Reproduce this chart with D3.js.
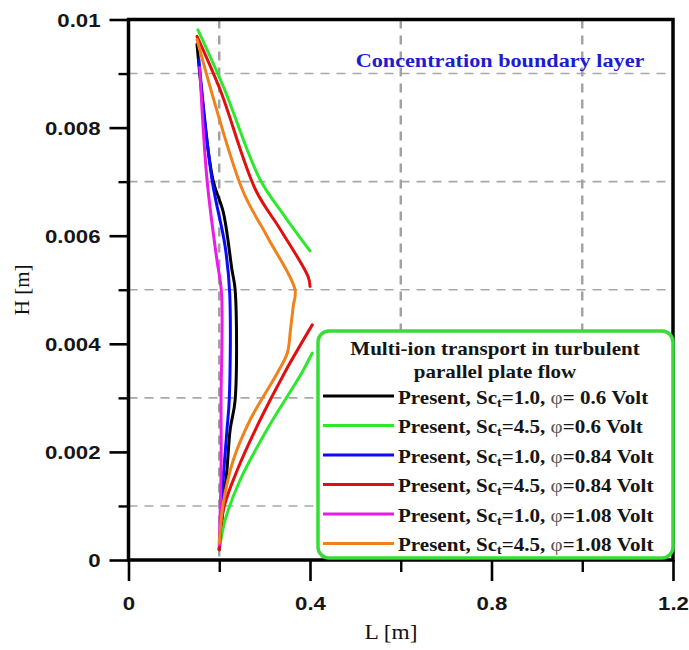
<!DOCTYPE html>
<html>
<head>
<meta charset="utf-8">
<script src="https://cdn.jsdelivr.net/npm/d3@7"></script>
<style>
  html, body { margin: 0; padding: 0; background: #fff; }
  svg { display: block; }
</style>
</head>
<body>
<svg id="chart" width="689" height="650"></svg>
<script>
// Concentration boundary-layer profiles, points are [L (m), H (m)].
// A null entry splits a profile into an upper and a lower branch.
const profileSc10Phi060 = [[0.151,0.00954],[0.186,0.00704],[0.209,0.00643],[0.228,0.00537],[0.235,0.00500],
  [0.235,0.00296],[0.224,0.00241],[0.217,0.00167],[0.206,0.00074],[0.200,0.00019]];
const profileSc45Phi060 = [[0.153,0.00981],[0.209,0.00876],[0.290,0.00704],[0.345,0.00635],[0.400,0.00572],
  null,
  [0.405,0.00383],[0.383,0.00348],[0.305,0.00241],[0.246,0.00148],[0.213,0.00074],[0.200,0.00019]];
const profileSc10Phi084 = [[0.155,0.00926],[0.184,0.00704],[0.213,0.00580],[0.223,0.00494],[0.222,0.00296],
  [0.217,0.00241],[0.206,0.00117],[0.200,0.00019]];
const profileSc45Phi084 = [[0.151,0.00969],[0.202,0.00870],[0.280,0.00685],[0.335,0.00611],[0.396,0.00524],[0.400,0.00506],
  null,
  [0.405,0.00435],[0.345,0.00348],[0.290,0.00259],[0.240,0.00167],[0.209,0.00093],[0.200,0.00019]];
const profileSc10Phi108 = [[0.157,0.00911],[0.173,0.00704],[0.194,0.00560],[0.205,0.00494],[0.204,0.00296],
  [0.204,0.00167],[0.200,0.00028]];
const profileSc45Phi108 = [[0.151,0.00963],[0.251,0.00685],[0.306,0.00598],[0.367,0.00500],[0.363,0.00469],
  [0.357,0.00426],[0.350,0.00383],[0.328,0.00346],[0.268,0.00259],[0.231,0.00185],[0.209,0.00106],[0.200,0.00031]];

const seriesColors = ["#000000", "#2ee82e", "#0a0aff", "#e01010", "#e61ee6", "#f0821e"];
const legendSc  = ["1.0", "4.5", "1.0", "4.5", "1.0", "4.5"];
const legendPhi = [" 0.6", "0.6", "0.84", "0.84", "1.08", "1.08"];
const legendTitle = ["Multi-ion transport  in turbulent", "parallel plate flow"];

const xMajorTicks = [0, 0.4, 0.8, 1.2];
const xTickLabels = ["0", "0.4", "0.8", "1.2"];
const xMinorTicks = [0.2, 0.6, 1.0];
const yMajorTicks = [0, 0.002, 0.004, 0.006, 0.008, 0.01];
const yTickLabels = ["0", "0.002", "0.004", "0.006", "0.008", "0.01"];
const yMinorTicks = [0.001, 0.003, 0.005, 0.007, 0.009];

const profiles = [profileSc10Phi060, profileSc45Phi060, profileSc10Phi084,
                  profileSc45Phi084, profileSc10Phi108, profileSc45Phi108];

// ---- layout ----
const plotLeft = 128.5, plotRight = 673, plotTop = 19.5, plotBottom = 560;
const SX = 1.17; // horizontal stretch applied to all lettering
const svg = d3.select("#chart");

const x = d3.scaleLinear().domain([0, 1.2]).range([plotLeft, plotRight]);
const y = d3.scaleLinear().domain([0, 0.01]).range([plotBottom, plotTop]);

const serif = "'Liberation Serif', 'Times New Roman', serif";
const sans = "'Liberation Sans', Arial, sans-serif";

// ---- dashed grid (at the minor positions) ----
const grid = svg.append("g");
grid.selectAll("line.h").data(yMinorTicks).join("line")
  .attr("x1", plotLeft).attr("x2", plotRight)
  .attr("y1", d => y(d)).attr("y2", d => y(d))
  .attr("stroke", "#a8a8a8").attr("stroke-width", 1.6)
  .attr("stroke-dasharray", "9,7");
grid.selectAll("line.v").data(xMinorTicks).join("line")
  .attr("x1", d => x(d)).attr("x2", d => x(d))
  .attr("y1", plotTop).attr("y2", plotBottom)
  .attr("stroke", "#a0a0a0").attr("stroke-width", 2.4)
  .attr("stroke-dasharray", "9,7");

// ---- profile curves ----
const line = d3.line()
  .defined(d => d !== null)
  .x(d => x(d[0])).y(d => y(d[1]))
  .curve(d3.curveCatmullRom.alpha(0.5));

svg.append("g").selectAll("path").data(profiles).join("path")
  .attr("d", line)
  .attr("fill", "none")
  .attr("stroke", (d, i) => seriesColors[i])
  .attr("stroke-width", 3)
  .attr("stroke-linejoin", "round")
  .attr("stroke-linecap", "round");

// ---- axes ----
function styleTicks(g, w) {
  g.select(".domain").remove();
  g.selectAll(".tick line").attr("stroke", "#000").attr("stroke-width", w);
}

const yAxisMinor = svg.append("g").attr("transform", `translate(${plotLeft},0)`)
  .call(d3.axisLeft(y).tickValues(yMinorTicks).tickSize(10).tickFormat(""));
styleTicks(yAxisMinor, 2.4);

const yAxis = svg.append("g").attr("transform", `translate(${plotLeft},0)`)
  .call(d3.axisLeft(y).tickValues(yMajorTicks).tickSize(19)
        .tickFormat((d, i) => yTickLabels[i]));
styleTicks(yAxis, 2.6);
yAxis.selectAll(".tick text")
  .attr("x", 0).attr("dy", "0.36em")
  .attr("transform", `translate(-28,0) scale(${SX},1)`)
  .attr("font-family", sans).attr("font-weight", "bold")
  .attr("font-size", 19).attr("fill", "#161616");

const xAxisMinor = svg.append("g").attr("transform", `translate(0,${plotBottom})`)
  .call(d3.axisBottom(x).tickValues(xMinorTicks).tickSize(12).tickFormat(""));
styleTicks(xAxisMinor, 2.4);

const xAxis = svg.append("g").attr("transform", `translate(0,${plotBottom})`)
  .call(d3.axisBottom(x).tickValues(xMajorTicks).tickSize(21)
        .tickFormat((d, i) => xTickLabels[i]));
styleTicks(xAxis, 2.6);
xAxis.selectAll(".tick text")
  .attr("y", 0).attr("dy", null)
  .attr("transform", `translate(0,50) scale(${SX},1)`)
  .attr("font-family", sans).attr("font-weight", "bold")
  .attr("font-size", 19).attr("fill", "#161616");

// plot frame
svg.append("rect")
  .attr("x", plotLeft).attr("y", plotTop)
  .attr("width", plotRight - plotLeft).attr("height", plotBottom - plotTop)
  .attr("fill", "none").attr("stroke", "#000").attr("stroke-width", 3.5);

// ---- lettering ----
function stretchedText(g, px, py, anchor) {
  return g.append("text")
    .attr("transform", `translate(${px},${py}) scale(${SX},1)`)
    .attr("text-anchor", anchor);
}

stretchedText(svg, 391, 639, "middle")
  .attr("font-family", serif).attr("font-size", 20).attr("fill", "#111")
  .text("L [m]");

svg.append("text")
  .attr("transform", `translate(29,${(plotTop + plotBottom) / 2}) rotate(-90)`)
  .attr("text-anchor", "middle")
  .attr("font-family", serif).attr("font-size", 21).attr("fill", "#111")
  .text("H [m]");

stretchedText(svg, 500, 67, "middle")
  .attr("font-family", serif).attr("font-weight", "bold")
  .attr("font-size", 19).attr("fill", "#1c1cd0")
  .text("Concentration boundary layer");

// ---- legend ----
const lg = svg.append("g");
lg.append("rect")
  .attr("x", 318).attr("y", 331).attr("width", 355).attr("height", 227)
  .attr("rx", 11).attr("ry", 11)
  .attr("fill", "#fff").attr("stroke", "#36dd36").attr("stroke-width", 3.5);

legendTitle.forEach((t, i) => {
  stretchedText(lg, 495, 355 + i * 23, "middle")
    .attr("font-family", serif).attr("font-weight", "bold")
    .attr("font-size", 18).attr("fill", "#151515")
    .text(t);
});

const rowY = i => 396 + i * 29.5;
seriesColors.forEach((c, i) => {
  lg.append("line")
    .attr("x1", 323).attr("x2", 394)
    .attr("y1", rowY(i)).attr("y2", rowY(i))
    .attr("stroke", c).attr("stroke-width", 3.2);
  const t = stretchedText(lg, 398, rowY(i) + 7.5, "start")
    .attr("font-family", serif).attr("font-weight", "bold")
    .attr("font-size", 18).attr("fill", "#151515");
  t.append("tspan").text("Present, Sc");
  t.append("tspan").attr("font-size", 12).attr("dy", 3).text("t");
  t.append("tspan").attr("dy", -3).text(`=${legendSc[i]}, `);
  t.append("tspan").attr("font-weight", "normal").attr("fill", "#555").text("φ");
  t.append("tspan").text(`=${legendPhi[i]} Volt`);
});
</script>
</body>
</html>
